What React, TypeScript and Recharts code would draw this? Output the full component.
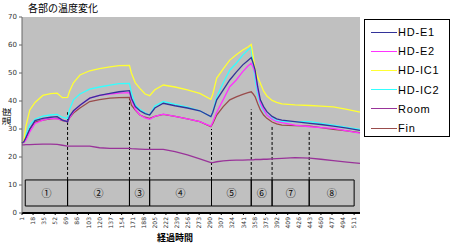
import { LineChart, Line, XAxis, YAxis, CartesianGrid, ReferenceArea, ReferenceLine } from "recharts";

// elapsed time index where readings were taken
const times = [
  1, 4, 7, 13, 21, 33, 45, 55, 63, 71, 74, 80, 90, 105, 120, 136, 150, 166, 169, 175, 182, 190, 197, 205, 218, 236,
  255, 274, 291, 294, 300, 310, 320, 330, 340, 348, 353, 356, 359, 363, 367, 372, 377, 385, 392, 400, 420, 443, 460,
  479, 500, 520,
];

const hdE1 = [
  25, 25.5, 27, 30, 33, 33.8, 34.2, 34.4, 33.2, 32.6, 34.5, 36.5, 38.5, 41, 42, 42.7, 43.3, 43.7, 41, 38, 36.5, 35.5,
  35, 37.5, 39.2, 38.3, 37.5, 36.5, 34.4, 36, 40.4, 44, 47.5, 50.3, 52.9, 54.5, 55.5, 53.5, 51, 45, 40.4, 38, 36.2,
  34.5, 33.6, 33.2, 32.6, 32, 31.6, 31, 30.3, 29.5,
];
const hdE2 = [
  25, 25.3, 26, 29, 32, 33.2, 33.8, 33.6, 33.2, 32.6, 34, 36.2, 38.5, 41, 42, 42.5, 42.8, 43, 40.5, 37, 35, 34, 33.5,
  34.5, 35.3, 34.5, 33.6, 32.6, 31, 32.5, 36, 40.5, 45.1, 47.5, 50.5, 52.5, 53.5, 52, 49.9, 44, 39.2, 37, 35, 33.5,
  32.6, 32.3, 31.4, 30.8, 30.5, 30.2, 29.3, 28.5,
];
const hdIC1 = [
  25, 26, 31, 36.8, 39.5, 42, 42.6, 42.8, 41.2, 41.3, 43.5, 46.5, 49.3, 50.8, 51.6, 52.2, 52.6, 52.7, 50, 46.5, 44.5,
  42.5, 41.9, 44, 45.7, 45, 44, 42.7, 40.6, 42.5, 48.2, 51.5, 54.6, 56.5, 58.2, 59.3, 60.2, 56, 51, 48.5, 46.3, 43.5,
  41.8, 40.2, 39.5, 39, 38.6, 38.4, 38.2, 37.9, 37, 36,
];
const hdIC2 = [
  25, 25.5, 28, 31.5, 33.5, 34.6, 35, 35.2, 34.2, 33.8, 37, 40.4, 42.5, 44.2, 45, 45.7, 46.2, 46.3, 43, 38.5, 37, 35.8,
  35, 38.2, 39.8, 38.8, 37.8, 36.5, 34.4, 36, 41.5, 46.5, 51, 53.5, 56.4, 58.2, 59.2, 53, 47.5, 42, 38.6, 36.5, 35,
  33.8, 33, 32.6, 32.6, 32.6, 32, 31.4, 30.6, 29.9,
];
const room = [
  24.3, 24.3, 24.4, 24.4, 24.5, 24.6, 24.6, 24.5, 24.2, 23.9, 23.9, 23.9, 23.9, 23.9, 23.3, 23.1, 23.1, 23.1, 23, 22.9,
  22.8, 22.7, 22.7, 22.7, 22.7, 21.9, 20.8, 19.3, 18, 18, 18.3, 18.6, 18.8, 18.9, 18.9, 19, 19, 19, 19.1, 19.1, 19.1,
  19.2, 19.2, 19.3, 19.4, 19.5, 19.8, 19.6, 19.2, 18.7, 18.2, 17.7,
];
const fin = [
  25, 25.3, 26.5, 30, 32.5, 33.2, 33.6, 33.8, 33, 32.6, 34, 35.7, 37.5, 39.8, 40.5, 41, 41.2, 41.3, 38.5, 36.8, 35,
  34.2, 33.8, 34.5, 35.2, 34.5, 33.6, 32.6, 30.8, 32, 35, 38, 40.4, 41.5, 42.4, 43, 43.3, 42.5, 41.5, 39, 36.8, 35,
  33.8, 32.5, 31.8, 31.4, 31.2, 31, 30.5, 29.9, 29.3, 28.7,
];

const xTicks = [1, 18, 35, 52, 69, 86, 103, 120, 137, 154, 171, 188, 205, 222, 239, 256, 273, 290, 307, 324, 341, 358, 375, 392, 409, 426, 443, 460, 477, 494, 511];
const yTicks = [0, 10, 20, 30, 40, 50, 60, 70];

// test phases ①..⑧
const phaseBounds = [6, 71, 166, 197, 292, 353, 385, 442, 511];
const phaseLabels = ["①", "②", "③", "④", "⑤", "⑥", "⑦", "⑧"];
const phaseLineTops = [36, 41, 32, 30, 37, 31, 29];

const series = [
  { key: "e1", name: "HD-E1", color: "#333399", values: hdE1 },
  { key: "e2", name: "HD-E2", color: "#ff33ff", values: hdE2 },
  { key: "ic1", name: "HD-IC1", color: "#ffff33", values: hdIC1 },
  { key: "ic2", name: "HD-IC2", color: "#33ffff", values: hdIC2 },
  { key: "room", name: "Room", color: "#993399", values: room },
  { key: "fin", name: "Fin", color: "#994c4c", values: fin },
];

const data = times.map((t, i) => {
  const row: Record<string, number> = { t };
  series.forEach((s) => (row[s.key] = s.values[i]));
  return row;
});

const jp = '"Noto Sans CJK JP", sans-serif';

function XTick({ x, y, payload }: any) {
  return (
    <g transform={`translate(${x},${y})`}>
      <text transform="rotate(-90)" textAnchor="end" dy="0.35em" fontSize={6} fill="#333" fontFamily="DejaVu Sans">
        {payload.value}
      </text>
    </g>
  );
}

export default function App() {
  return (
    <div style={{ position: "absolute", left: 0, top: 0, width: 450, height: 246, background: "#fff" }}>
      <div style={{ position: "absolute", left: 28, top: 0, fontSize: 10, fontFamily: jp, color: "#000" }}>各部の温度変化</div>
      <div
        style={{
          position: "absolute",
          left: -4,
          top: 110,
          fontSize: 9,
          fontFamily: jp,
          transform: "rotate(-90deg)",
          width: 20,
          textAlign: "center",
        }}
      >
        温度
      </div>
      <div style={{ position: "absolute", left: 157, top: 231, fontSize: 9, fontFamily: jp, fontWeight: 700 }}>経過時間</div>

      <LineChart width={450} height={246} data={data} margin={{ top: 17, right: 90, bottom: 0, left: 0 }}>
        <CartesianGrid fill="#c0c0c0" horizontal={false} vertical={false} />
        <XAxis
          dataKey="t"
          type="number"
          domain={[1, 520]}
          ticks={xTicks}
          interval={0}
          height={33}
          tick={<XTick />}
          tickSize={2}
          tickMargin={2}
          axisLine={{ stroke: "#000", strokeWidth: 2 }}
          tickLine={{ stroke: "#000" }}
        />
        <YAxis
          type="number"
          domain={[0, 70]}
          ticks={yTicks}
          width={22}
          tickSize={3}
          tickMargin={2}
          tick={{ fontSize: 7, fill: "#333", fontFamily: "DejaVu Sans" }}
          axisLine={{ stroke: "#666" }}
          tickLine={{ stroke: "#666" }}
        />
        {phaseLabels.map((lab, i) => (
          <ReferenceArea
            key={lab}
            x1={phaseBounds[i]}
            x2={phaseBounds[i + 1]}
            y1={2.5}
            y2={11.8}
            fill="none"
            stroke="#000"
            strokeWidth={1}
            ifOverflow="visible"
            label={{ value: lab, position: "center", fontSize: 10, fill: "#000", fontFamily: jp }}
          />
        ))}
        {phaseLineTops.map((top, i) => (
          <ReferenceLine
            key={i}
            segment={[
              { x: phaseBounds[i + 1], y: 11.8 },
              { x: phaseBounds[i + 1], y: top },
            ]}
            stroke="#000"
            strokeDasharray="3 2"
          />
        ))}
        {[...series].reverse().map((s) => (
          <Line
            key={s.key}
            type="linear"
            dataKey={s.key}
            name={s.name}
            stroke={s.color}
            strokeWidth={1.3}
            dot={false}
            isAnimationActive={false}
          />
        ))}
      </LineChart>

      <div
        style={{
          position: "absolute",
          left: 364,
          top: 19,
          width: 84,
          height: 116,
          border: "1px solid #000",
          background: "#fff",
        }}
      >
        {series.map((s, i) => (
          <div
            key={s.key}
            style={{ position: "absolute", left: 6, top: 4 + i * 19.2, height: 16, display: "flex", alignItems: "center" }}
          >
            <div style={{ width: 26, height: 0, borderTop: `1px solid ${s.color}` }} />
            <span style={{ marginLeft: 1, fontSize: 11, letterSpacing: 0.8, fontFamily: '"Liberation Sans", sans-serif', color: "#000" }}>
              {s.name}
            </span>
          </div>
        ))}
      </div>
    </div>
  );
}
